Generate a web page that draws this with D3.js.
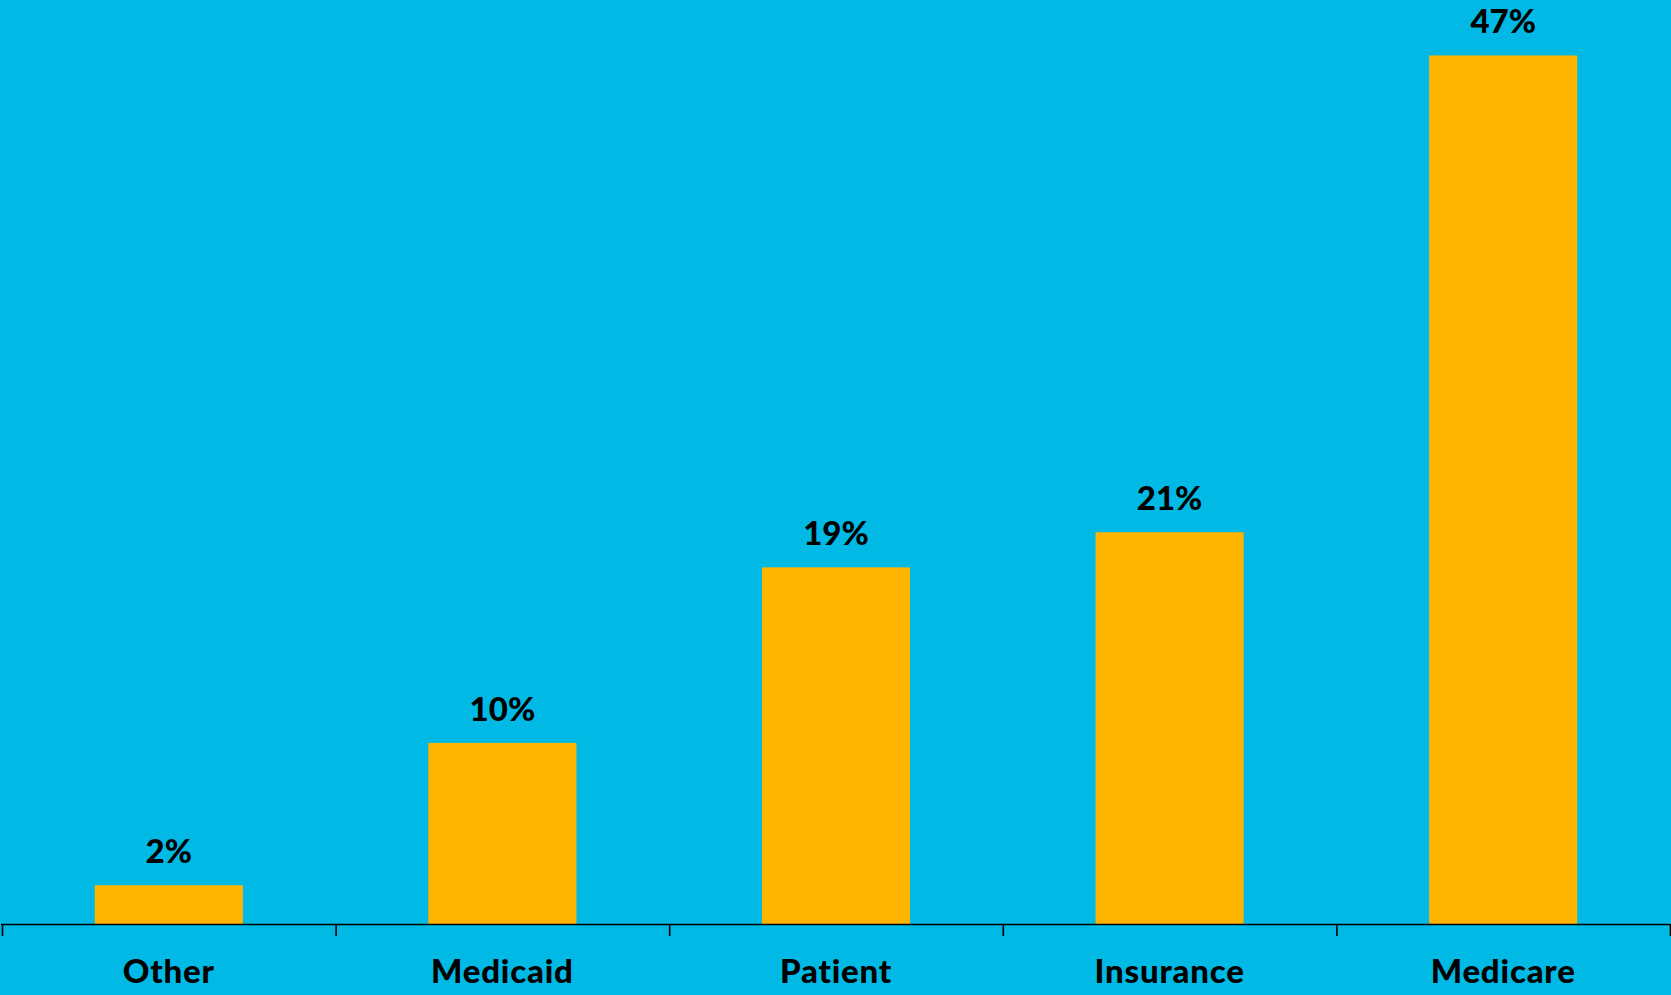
<!DOCTYPE html>
<html><head><meta charset="utf-8">
<script src="https://cdn.jsdelivr.net/npm/d3@7"></script>
<style>html,body{margin:0;padding:0;background:#00B9E4;overflow:hidden}</style>
</head><body>
<svg id="c" width="1671" height="995"></svg>
<script>
const categories = ["Other", "Medicaid", "Patient", "Insurance", "Medicare"];
const values = [2.1, 9.8, 19.3, 21.2, 47.0];
const labels = ["2%", "10%", "19%", "21%", "47%"];

const W = 1671, H = 995;
const svg = d3.select("#c");
svg.append("rect").attr("width", W).attr("height", H).attr("fill", "#00B9E4");

const x = d3.scaleBand().domain(categories).range([2, 1670]).paddingInner(0.556).paddingOuter(0.278);
const y = d3.scaleLinear().domain([0, 50]).range([924, 0]);

svg.selectAll("rect.bar").data(categories).enter().append("rect")
  .attr("class", "bar")
  .attr("x", d => x(d))
  .attr("width", x.bandwidth())
  .attr("y", (d, i) => y(values[i]))
  .attr("height", (d, i) => y(0) - y(values[i]))
  .attr("fill", "#FFB400");

const font = "Lato, 'Open Sans', sans-serif";

svg.selectAll("text.val").data(categories).enter().append("text")
  .attr("class", "val")
  .attr("x", d => x(d) + x.bandwidth() / 2)
  .attr("y", (d, i) => y(values[i]) - 22)
  .attr("text-anchor", "middle")
  .attr("font-family", font)
  .attr("font-weight", 900)
  .attr("font-size", 33)
  .attr("fill", "#000")
  .text((d, i) => labels[i]);

const xb = d3.scaleLinear().domain([0, categories.length]).range([2, 1670]);
const ax = svg.append("g").attr("transform", "translate(0,924)")
  .call(d3.axisBottom(xb).tickValues(d3.range(0, categories.length + 1)).tickSize(12).tickSizeOuter(0).tickFormat(""));
ax.select(".domain").attr("stroke", "#000").attr("stroke-width", 1.6).attr("d", "M1,0.5H1670");
ax.selectAll(".tick line").attr("stroke", "#000").attr("stroke-width", 1.6);

svg.selectAll("text.cat").data(categories).enter().append("text")
  .attr("class", "cat")
  .attr("x", d => x(d) + x.bandwidth() / 2)
  .attr("y", 983)
  .attr("text-anchor", "middle")
  .attr("font-family", font)
  .attr("font-weight", 900)
  .attr("font-size", 33)
  .attr("letter-spacing", 0.8)
  .attr("fill", "#000")
  .text(d => d);
</script>
</body></html>
